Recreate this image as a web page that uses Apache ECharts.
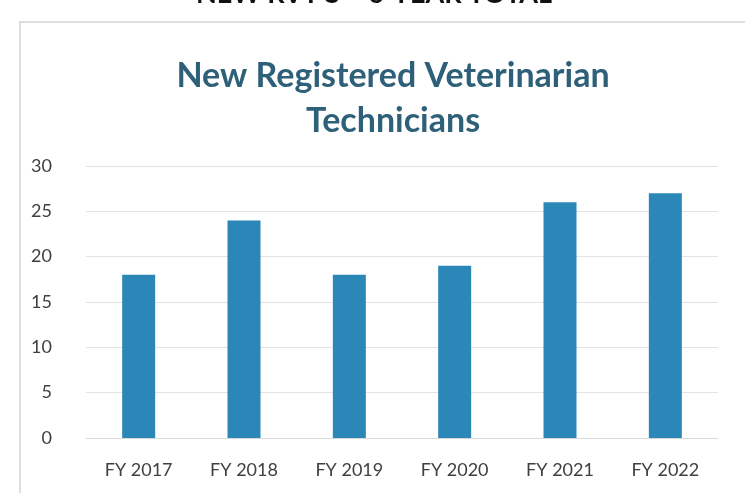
<!DOCTYPE html>
<html>
<head>
<meta charset="utf-8">
<script src="https://cdn.jsdelivr.net/npm/echarts@6/dist/echarts.min.js"></script>
<style>html,body{margin:0;padding:0;background:#fff}#c{width:745px;height:493px}</style>
</head>
<body>
<div id="c"></div>
<script>
var categories = ['FY 2017', 'FY 2018', 'FY 2019', 'FY 2020', 'FY 2021', 'FY 2022'];
var values = [18, 24, 18, 19, 26, 27];
var yTicks = [0, 5, 10, 15, 20, 25, 30];
var chartTitle = 'New Registered Veterinarian\nTechnicians';
var pageHeading = 'NEW RVT\u2019S \u2013 6-YEAR TOTAL';

var chart = echarts.init(document.getElementById('c'));
chart.setOption({
  animation: false,
  backgroundColor: '#fff',
  graphic: [
    { type: 'rect', shape: { x: 20, y: 22, width: 760, height: 500 },
      style: { fill: 'none', stroke: '#d4d4d4', lineWidth: 1.5 } },
    { type: 'text', x: 374, y: -19, style: { text: pageHeading, fill: '#111',
      font: 'bold 27px "Lato", sans-serif', textAlign: 'center' } }
  ],
  title: {
    text: chartTitle, left: 388, top: 49, textAlign: 'center',
    textStyle: { color: '#2f6079', fontSize: 34, fontWeight: 'bold', fontFamily: 'Lato', lineHeight: 45 }
  },
  grid: { left: 86, right: 27, top: 166, bottom: 55 },
  xAxis: {
    type: 'category', data: categories,
    axisLine: { show: true, lineStyle: { color: '#d9d9d9' } },
    axisTick: { show: false },
    axisLabel: { color: '#404040', fontSize: 18, fontFamily: 'Lato', margin: 23 }
  },
  yAxis: {
    type: 'value', min: yTicks[0], max: yTicks[yTicks.length - 1], interval: 5,
    axisLine: { show: false }, axisTick: { show: false },
    splitLine: { lineStyle: { color: '#e3e3e3' } },
    axisLabel: { color: '#404040', fontSize: 18, fontFamily: 'Lato', margin: 34 }
  },
  series: [{
    type: 'bar', data: values, barWidth: 33,
    itemStyle: { color: '#2b87b8' }
  }]
});
</script>
</body>
</html>
